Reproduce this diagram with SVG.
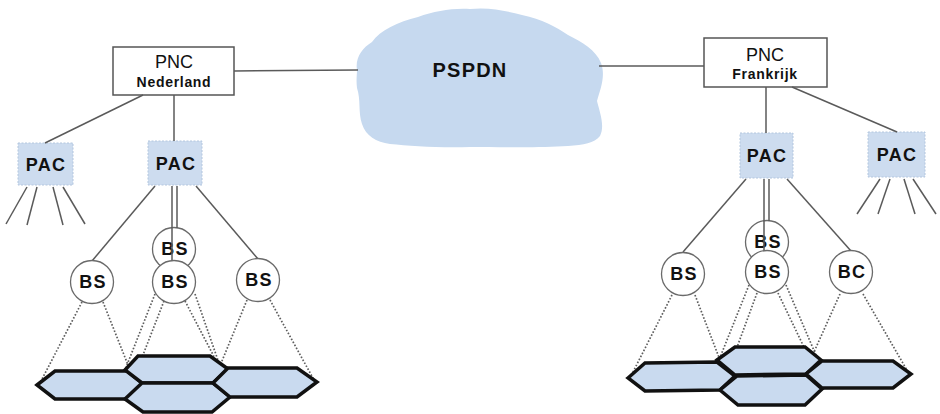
<svg xmlns="http://www.w3.org/2000/svg" width="940" height="414" viewBox="0 0 940 414">
  <style>
    .bg { fill: #ffffff; }
    .pnc { fill: #ffffff; stroke: #555555; stroke-width: 1.5; }
    .pac { fill: #cddcef; stroke: #b3c6de; stroke-width: 1; stroke-dasharray: 2 1.5; }
    .cloud { fill: #c6d9ef; }
    .bs { fill: #ffffff; stroke: #6a6a6a; stroke-width: 1.3; }
    .cell { fill: #c9daef; stroke: #111111; stroke-width: 3.5; stroke-linejoin: miter; }
    .link { fill: none; stroke: #5a5a5a; stroke-width: 1.5; }
    .cover { fill: none; stroke: #5e5e5e; stroke-width: 1.7; stroke-dasharray: 1.6 1.8; }
    .t { font-family: "Liberation Sans", Arial, sans-serif; fill: #111111; text-anchor: middle; }
    .big { font-size: 18px; }
    .small { font-size: 14px; font-weight: bold; letter-spacing: 0.7px; }
    .lbl { font-size: 18px; font-weight: bold; letter-spacing: 1.2px; }
    .net { font-size: 20px; font-weight: bold; letter-spacing: 1.2px; }
  </style>

  <rect class="bg" x="0" y="0" width="940" height="414"/>

  <!-- public packet switched data network -->
  <g id="pspdn">
    <path class="cloud" d="M357,70 C355,58 362,48 372,42 C380,30 398,22 418,17 C435,11 452,8 470,9 C490,7 506,11 522,15 C542,19 556,27 568,35 C582,42 596,50 601,63 C606,76 600,90 597,101 C600,113 605,126 600,136 C594,143 584,145 568,146 C540,148 500,147 470,147 C440,148 410,146 390,144 C376,142 366,136 362,124 C358,112 361,100 357,88 C356,80 357,75 357,70 Z"/>
    <text class="t net" x="470" y="77">PSPDN</text>
  </g>

  <!-- national controllers -->
  <g id="pnc-nl">
    <rect class="pnc" x="113" y="47" width="121" height="48"/>
    <text class="t big" x="174" y="68">PNC</text>
    <text class="t small" x="174" y="87">Nederland</text>
  </g>
  <g id="pnc-fr">
    <rect class="pnc" x="704" y="38" width="123" height="49"/>
    <text class="t big" x="765" y="61">PNC</text>
    <text class="t small" x="765" y="79">Frankrijk</text>
  </g>

  <!-- area controllers -->
  <g id="pac-nl-1">
    <rect class="pac" x="18" y="143" width="55" height="42"/>
    <text class="t lbl" x="46" y="171">PAC</text>
  </g>
  <g id="pac-nl-2">
    <rect class="pac" x="148" y="141" width="54" height="44"/>
    <text class="t lbl" x="176" y="170">PAC</text>
  </g>
  <g id="pac-fr-1">
    <rect class="pac" x="740" y="133" width="53" height="45"/>
    <text class="t lbl" x="767" y="162">PAC</text>
  </g>
  <g id="pac-fr-2">
    <rect class="pac" x="868" y="132" width="57" height="45"/>
    <text class="t lbl" x="897" y="161">PAC</text>
  </g>

  <!-- stacked base stations (rear) -->
  <g id="bs-nl-rear">
    <circle class="bs" cx="174" cy="249" r="21.5"/>
    <text class="t lbl" x="175" y="255">BS</text>
  </g>
  <g id="bs-fr-rear">
    <circle class="bs" cx="767" cy="242" r="21.5"/>
    <text class="t lbl" x="768" y="248">BS</text>
  </g>

  <!-- links -->
  <g id="connectors">
    <line class="link" x1="234" y1="71" x2="358" y2="70"/>
    <line class="link" x1="599" y1="66" x2="704" y2="66"/>

    <line class="link" x1="143" y1="95" x2="45" y2="143"/>
    <line class="link" x1="174" y1="95" x2="174" y2="141"/>
    <line class="link" x1="766" y1="87" x2="766" y2="133"/>
    <line class="link" x1="792" y1="87" x2="897" y2="132"/>

    <!-- fan-out of the outer controllers -->
    <line class="link" x1="27" y1="187" x2="6" y2="224"/>
    <line class="link" x1="37" y1="187" x2="27" y2="225"/>
    <line class="link" x1="53" y1="187" x2="63" y2="225"/>
    <line class="link" x1="63" y1="187" x2="85" y2="224"/>
    <line class="link" x1="880" y1="179" x2="857" y2="214"/>
    <line class="link" x1="890" y1="179" x2="878" y2="214"/>
    <line class="link" x1="904" y1="179" x2="915" y2="214"/>
    <line class="link" x1="913" y1="179" x2="936" y2="214"/>

    <!-- controller to base stations -->
    <line class="link" x1="155" y1="186" x2="92" y2="261"/>
    <line class="link" x1="196" y1="186" x2="258" y2="259"/>
    <line class="link" x1="172" y1="186" x2="172" y2="262"/>
    <line class="link" x1="177" y1="186" x2="177" y2="228"/>
    <line class="link" x1="746" y1="179" x2="683" y2="252"/>
    <line class="link" x1="787" y1="179" x2="851" y2="251"/>
    <line class="link" x1="764" y1="179" x2="764" y2="252"/>
    <line class="link" x1="769" y1="179" x2="769" y2="221"/>

    <!-- radio coverage -->
    <line class="cover" x1="82" y1="302" x2="40" y2="383"/>
    <line class="cover" x1="103" y1="302" x2="130" y2="370"/>
    <line class="cover" x1="155" y1="294" x2="125" y2="370"/>
    <line class="cover" x1="164" y1="301" x2="127" y2="396"/>
    <line class="cover" x1="185" y1="301" x2="222" y2="372"/>
    <line class="cover" x1="195" y1="294" x2="230" y2="395"/>
    <line class="cover" x1="247" y1="300" x2="215" y2="378"/>
    <line class="cover" x1="270" y1="300" x2="314" y2="380"/>

    <line class="cover" x1="672" y1="295" x2="631" y2="376"/>
    <line class="cover" x1="695" y1="295" x2="720" y2="360"/>
    <line class="cover" x1="749" y1="285" x2="719" y2="360"/>
    <line class="cover" x1="757" y1="293" x2="722" y2="388"/>
    <line class="cover" x1="778" y1="293" x2="813" y2="366"/>
    <line class="cover" x1="786" y1="285" x2="818" y2="360"/>
    <line class="cover" x1="840" y1="294" x2="805" y2="372"/>
    <line class="cover" x1="863" y1="294" x2="908" y2="372"/>
  </g>

  <!-- base stations -->
  <g id="bs-nl-1">
    <circle class="bs" cx="92" cy="282" r="21.5"/>
    <text class="t lbl" x="93" y="288">BS</text>
  </g>
  <g id="bs-nl-front">
    <circle class="bs" cx="174" cy="282" r="21.5"/>
    <text class="t lbl" x="175" y="288">BS</text>
  </g>
  <g id="bs-nl-3">
    <circle class="bs" cx="258" cy="280" r="21.5"/>
    <text class="t lbl" x="259" y="286">BS</text>
  </g>
  <g id="bs-fr-1">
    <circle class="bs" cx="683" cy="274" r="21.5"/>
    <text class="t lbl" x="684" y="280">BS</text>
  </g>
  <g id="bs-fr-front">
    <circle class="bs" cx="767" cy="272" r="21.5"/>
    <text class="t lbl" x="768" y="278">BS</text>
  </g>
  <g id="bc-fr">
    <circle class="bs" cx="851" cy="272" r="21.5"/>
    <text class="t lbl" x="852" y="278">BC</text>
  </g>

  <!-- radio cells -->
  <g id="cells-nl">
    <polygon class="cell" points="37,385 55,371 127,371 143,384 127,399 55,399"/>
    <polygon class="cell" points="125,370 138,356 210,356 228,369 213,383 142,383"/>
    <polygon class="cell" points="125,399 142,383 213,383 230,397 212,412 143,412"/>
    <polygon class="cell" points="213,383 228,368 297,368 317,382 297,397 230,397"/>
  </g>
  <g id="cells-fr">
    <polygon class="cell" points="628,378 645,363 717,362 735,376 720,390 645,391"/>
    <polygon class="cell" points="717,360 735,347 805,347 821,360 806,374 735,375"/>
    <polygon class="cell" points="720,390 737,376 806,375 822,389 805,405 738,405"/>
    <polygon class="cell" points="806,374 822,361 893,361 911,374 893,388 822,388"/>
  </g>
</svg>
